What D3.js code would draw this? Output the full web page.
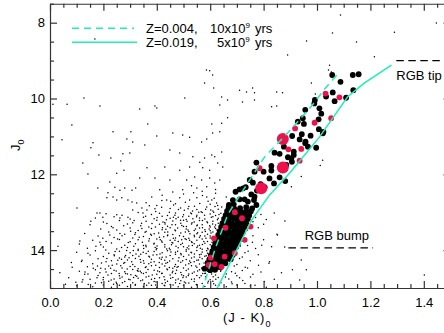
<!DOCTYPE html>
<html>
<head>
<meta charset="utf-8">
<script src="https://cdn.jsdelivr.net/npm/d3@7"></script>
<style>
  html, body { margin: 0; padding: 0; background: #fff; }
  svg { display: block; font-family: "Liberation Sans", Arial, Helvetica, sans-serif; }
  .axis { font-family: "Liberation Sans", Arial, Helvetica, sans-serif; }
  .axis path, .axis line { stroke: #333; stroke-width: 1.2; }
  .axis text { font-size: 13px; fill: #000; }
  .lbl { font-size: 13px; fill: #000; }
</style>
</head>
<body>
<svg id="chart" width="444" height="333"></svg>
<script>
// axis ticks
const jkTicks = [0.0, 0.2, 0.4, 0.6, 0.8, 1.0, 1.2, 1.4];
const jTicks = [8, 10, 12, 14];

// isochrones [(J-K)0, J0]
const isoZ004 = [[0.568,15.1],[0.617,14.0],[0.665,13.07],[0.736,12.28],[0.804,11.54],[0.890,10.91],[0.983,10.17],[1.032,9.72],[1.084,9.30]];
const isoZ019 = [[0.619,15.1],[0.699,14.0],[0.755,13.21],[0.822,12.55],[0.897,11.97],[1.009,11.02],[1.114,9.96],[1.178,9.59],[1.279,9.12]];

const legendLabels = [
  { z: 'Z=0.004,', age: '10x10', exp: '9', unit: 'yrs', dashed: true },
  { z: 'Z=0.019,', age: '5x10', exp: '9', unit: 'yrs', dashed: false }
];

// RGB features
const rgbTipJ = 9.0;
const rgbBumpJ = 13.94;

// RGB members (black)
const rgbMembers = [
  [1.057,9.38],[1.088,9.56],[1.134,9.38],[1.156,9.36],[1.136,9.78],[1.109,9.98],[1.059,9.84],[1.066,10.07],
  [1.034,9.95],[0.992,10.04],[0.990,10.13],[1.009,10.26],[1.016,10.40],[0.956,10.30],[1.006,10.55],[0.947,10.52],
  [0.928,10.61],[0.951,10.67],[0.943,10.94],[0.976,10.98],[0.935,11.08],[0.956,11.18],[0.966,11.27],[0.997,11.30],
  [1.022,10.92],[0.876,11.27],[0.913,11.40],[0.841,11.43],[0.860,11.46],[0.891,11.55],[0.913,11.49],[0.906,11.67],
  [0.885,11.75],[0.829,11.78],[0.829,11.90],[0.773,11.69],[0.860,12.08],[0.822,12.11],[0.881,12.18],[0.839,12.24],
  [0.789,12.26],[0.804,12.34],[0.766,11.93],[0.800,11.93],[0.748,12.15],[0.760,12.22],[0.733,12.34],[0.710,12.40],
  [0.695,12.46],[0.710,12.66],[0.729,12.66],[0.741,12.72],[0.685,12.68],[0.670,12.81],[0.775,12.43],[0.766,12.59],
  [0.723,12.37],[0.754,12.53],[0.764,12.68],[0.773,12.81],[0.688,12.79],[1.007,10.81],[1.024,10.88],[0.907,10.99],
  [0.957,11.14],[0.904,11.58],
  [0.669,12.88],[0.690,12.90],[0.712,12.89],[0.735,12.87],[0.757,12.90],
  [0.663,12.97],[0.681,12.98],[0.699,12.96],[0.717,12.99],[0.735,12.97],[0.752,12.98],
  [0.658,13.08],[0.676,13.07],[0.694,13.09],[0.712,13.08],[0.729,13.07],[0.746,13.09],
  [0.652,13.18],[0.670,13.19],[0.688,13.17],[0.706,13.18],[0.723,13.19],[0.741,13.18],
  [0.646,13.29],[0.664,13.28],[0.682,13.30],[0.700,13.29],[0.717,13.28],[0.735,13.30],
  [0.641,13.39],[0.659,13.40],[0.676,13.38],[0.694,13.39],[0.711,13.40],[0.729,13.39],
  [0.636,13.50],[0.653,13.49],[0.671,13.51],[0.688,13.50],[0.706,13.49],[0.722,13.51],
  [0.630,13.60],[0.648,13.61],[0.665,13.59],[0.683,13.60],[0.700,13.61],[0.716,13.60],
  [0.624,13.71],[0.642,13.70],[0.660,13.72],[0.677,13.71],[0.694,13.70],[0.710,13.72],
  [0.619,13.82],[0.637,13.81],[0.654,13.83],[0.671,13.82],[0.688,13.81],[0.703,13.83],
  [0.613,13.92],[0.631,13.93],[0.648,13.91],[0.665,13.92],[0.682,13.93],[0.697,13.92],
  [0.608,14.03],[0.626,14.02],[0.643,14.04],[0.660,14.03],[0.676,14.02],[0.690,14.04],
  [0.602,14.13],[0.620,14.14],[0.637,14.12],[0.654,14.13],[0.670,14.14],[0.684,14.13],
  [0.597,14.24],[0.614,14.23],[0.631,14.25],[0.648,14.24],[0.664,14.23],[0.677,14.24],
  [0.591,14.34],[0.609,14.35],[0.626,14.33],[0.642,14.34],[0.657,14.35],
  [0.590,14.45],[0.607,14.44],[0.623,14.46],[0.638,14.45],
  [0.600,14.53],[0.618,14.52],[0.579,14.49]
];

// members marked red
const redStars = [
  [1.032,9.87],[1.084,9.97],[1.053,10.52],[0.991,10.64],[0.918,10.79],[0.941,11.33],[0.893,11.34],[0.935,11.64],
  [0.785,11.84],[0.692,13.00],[0.719,13.16],[0.751,13.38],[0.657,13.41],[0.729,13.73],[0.614,13.69],[0.692,14.08],
  [0.654,14.17],[0.602,14.20],[0.617,14.37],[0.594,14.39],[0.642,14.44]
];
const bigRedStars = [[0.872,11.07],[0.872,11.82],[0.791,12.37]];

// field stars
const fieldStars = [
  [0.168,8.43],[0.127,9.99],[0.586,9.25],[0.598,9.27],[0.609,9.38],[0.613,9.72],[0.579,9.59],[0.505,9.99],
  [0.40,10.25],[0.643,9.96],[0.665,10.04],[0.71,9.78],[0.736,9.83],[0.759,9.72],[0.766,9.85],[0.766,10.04],
  [0.849,9.83],[0.871,9.85],[0.89,8.85],[1.088,7.8],[1.058,8.27],[0.961,8.48],[1.148,8.51],[1.215,8.9],
  [1.29,8.25],[1.447,8.01],[1.047,9.12],[1.043,9.25],[1.054,9.3],[0.979,9.59],[0.994,9.88],
  [0.011,10.15],[0.064,10.15],[0.187,10.2],[0.336,10.28],[0.082,10.7],[0.366,10.67],[0.045,11.09],[0.161,11.17],
  [0.153,11.3],[0.236,10.88],[0.303,10.88],[0.288,11.07],[0.31,11.15],[0.355,11.23],[0.183,11.49],[0.228,11.57],
  [0.273,11.46],[0.299,11.44],[0.265,11.65],[0.123,11.7],[0.142,11.99],[0.25,11.97],[0.277,11.89],[0.363,11.83],
  [0.336,12.1],[0.224,12.2],[0.243,12.34],[0.101,12.89],[0.179,12.36],[0.213,12.62],
  [0.393,10.2],[0.636,10.17],[0.721,10.09],[0.83,10.22],[0.849,10.2],[0.643,10.65],[0.606,10.67],[0.665,10.51],
  [0.497,10.96],[0.4,10.99],[0.609,10.91],[0.636,10.88],[0.587,11.07],[0.568,11.15],[0.523,11.02],[0.46,10.91],
  [0.449,11.36],[0.486,11.44],[0.43,11.81],[0.535,11.54],[0.561,11.68],[0.579,11.57],[0.606,11.49],[0.617,11.54],
  [0.643,11.41],[0.628,11.7],[0.647,11.81],[0.598,11.89],[0.572,11.83],[0.523,11.81],[0.486,11.89],[0.393,12.1],
  [0.449,12.15],[0.512,12.15],[0.542,12.07],[0.568,12.15],[0.598,12.1],[0.617,12.23],[0.636,12.15],[0.587,12.33],
  [0.55,12.36],[0.497,12.41],[0.46,12.47],[0.411,12.41],[0.381,12.6],[0.437,12.68],[0.486,12.62],[0.523,12.68],
  [0.55,12.62],[0.587,12.6],[0.606,12.68],[0.624,12.76],[0.643,12.86],[0.587,12.86],
  [0.262,12.42],[0.28,12.36],[0.307,12.42],[0.321,12.36],[0.217,12.49],[0.236,12.6],[0.25,12.68],[0.269,12.62],
  [0.292,12.68],[0.307,12.73],[0.325,12.76],[0.344,12.89],[0.363,12.94],[0.187,13.02],[0.198,13.13],[0.25,13.07],
  [0.292,13.13],[0.31,12.94],[0.348,13.02],
  [0.42,12.55],[0.47,12.78],[0.52,12.85],[0.55,12.93],[0.61,12.97],[0.45,12.9],[0.5,12.52],[0.57,12.45],
  [0.62,12.5],[0.4,12.82],[0.36,12.75],[0.53,12.3],[0.62,12.4],[0.66,12.6],[0.6,12.79],[0.63,12.92],
  [0.03,13.9],[0.112,13.76],[0.037,14.6],[0.153,13.24],[0.176,13.02],[0.142,14.08],[0.187,13.79],[0.131,14.58],
  [1.021,11.63],[1.012,11.77],[0.941,12.06],[0.904,12.33],[0.941,14.26],[0.908,14.52],[0.96,14.52],[0.935,14.79],
  [1.402,14.66],[0.852,13.6],[0.879,13.92],[0.822,14.31],[0.867,14.6],[0.793,13.87],
  [0.21,13.04],[0.27,13.08],[0.33,13.01],[0.38,13.06],[0.41,13.03],[0.44,13.09],[0.47,13.02],[0.5,13.07],
  [0.53,13.04],[0.55,13.08],[0.57,13.01],[0.6,13.05],[0.62,13.09],[0.64,13.03],[0.79,13.06],[0.84,13.02],
  [0.17,13.15],[0.24,13.12],[0.3,13.18],[0.35,13.13],[0.39,13.17],[0.42,13.11],[0.45,13.16],[0.48,13.13],
  [0.51,13.19],[0.52,13.11],[0.56,13.15],[0.58,13.18],[0.61,13.12],[0.63,13.16],[0.77,13.14],[0.81,13.19],
  [0.2,13.26],[0.26,13.22],[0.31,13.28],[0.36,13.24],[0.4,13.21],[0.43,13.27],[0.46,13.23],[0.49,13.29],
  [0.5,13.21],[0.54,13.26],[0.56,13.22],[0.59,13.28],[0.61,13.24],[0.63,13.29],[0.76,13.25],[0.88,13.23],
  [0.15,13.33],[0.23,13.38],[0.29,13.31],[0.34,13.36],[0.37,13.39],[0.41,13.32],[0.44,13.37],[0.47,13.33],
  [0.5,13.38],[0.53,13.31],[0.55,13.36],[0.57,13.33],[0.6,13.39],[0.62,13.34],[0.75,13.36],[0.8,13.32],
  [0.19,13.44],[0.25,13.47],[0.3,13.42],[0.33,13.48],[0.38,13.43],[0.42,13.46],[0.45,13.41],[0.47,13.49],
  [0.51,13.44],[0.54,13.48],[0.56,13.42],[0.58,13.46],[0.6,13.49],[0.62,13.43],[0.74,13.47],[0.78,13.41],
  [0.13,13.56],[0.22,13.52],[0.28,13.58],[0.32,13.54],[0.36,13.51],[0.39,13.57],[0.43,13.53],[0.46,13.59],
  [0.49,13.55],[0.52,13.51],[0.55,13.57],[0.57,13.53],[0.59,13.58],[0.61,13.52],[0.73,13.55],[0.85,13.58],
  [0.18,13.63],[0.24,13.67],[0.27,13.62],[0.31,13.68],[0.35,13.64],[0.38,13.61],[0.41,13.66],[0.44,13.62],
  [0.47,13.68],[0.5,13.64],[0.52,13.69],[0.54,13.61],[0.56,13.66],[0.58,13.63],[0.6,13.68],[0.72,13.65],[0.76,13.62],
  [0.16,13.74],[0.21,13.77],[0.26,13.72],[0.3,13.78],[0.33,13.73],[0.37,13.76],[0.4,13.71],[0.42,13.79],
  [0.45,13.74],[0.48,13.77],[0.51,13.72],[0.53,13.78],[0.55,13.74],[0.57,13.71],[0.59,13.77],[0.71,13.75],[0.8,13.73],
  [0.11,13.84],[0.19,13.86],[0.23,13.81],[0.28,13.87],[0.32,13.83],[0.35,13.88],[0.39,13.82],[0.43,13.86],
  [0.46,13.81],[0.49,13.85],[0.52,13.89],[0.54,13.83],[0.56,13.87],[0.58,13.82],[0.6,13.86],[0.7,13.84],[0.74,13.88],
  [0.14,13.95],[0.2,13.92],[0.25,13.97],[0.29,13.93],[0.33,13.98],[0.36,13.91],[0.4,13.96],[0.43,13.92],
  [0.45,13.99],[0.48,13.94],[0.5,13.91],[0.52,13.97],[0.55,13.93],[0.57,13.98],[0.59,13.95],[0.69,13.93],[0.77,13.96],[0.83,13.91],
  [0.1,14.06],[0.17,14.02],[0.22,14.08],[0.26,14.03],[0.3,14.07],[0.33,14.01],[0.36,14.09],[0.39,14.04],
  [0.42,14.07],[0.44,14.02],[0.47,14.06],[0.49,14.09],[0.51,14.03],[0.53,14.07],[0.55,14.01],[0.57,14.05],[0.59,14.08],[0.69,14.04],[0.73,14.07],
  [0.15,14.13],[0.2,14.17],[0.24,14.12],[0.28,14.18],[0.31,14.14],[0.34,14.11],[0.37,14.16],[0.4,14.12],
  [0.42,14.19],[0.45,14.14],[0.47,14.11],[0.5,14.17],[0.52,14.13],[0.54,14.18],[0.56,14.12],[0.58,14.16],[0.68,14.14],[0.72,14.18],[0.78,14.12],
  [0.12,14.27],[0.18,14.23],[0.23,14.28],[0.26,14.21],[0.29,14.26],[0.32,14.22],[0.35,14.28],[0.38,14.24],
  [0.41,14.21],[0.43,14.27],[0.46,14.23],[0.48,14.29],[0.51,14.25],[0.53,14.21],[0.55,14.27],[0.57,14.23],[0.67,14.26],[0.71,14.22],[0.75,14.28],
  [0.08,14.33],[0.16,14.36],[0.21,14.31],[0.25,14.37],[0.28,14.33],[0.31,14.38],[0.34,14.32],[0.37,14.36],
  [0.39,14.31],[0.42,14.37],[0.44,14.33],[0.47,14.38],[0.49,14.32],[0.52,14.36],[0.54,14.31],[0.56,14.37],[0.66,14.34],[0.7,14.38],[0.82,14.35],
  [0.14,14.44],[0.19,14.48],[0.22,14.42],[0.27,14.47],[0.3,14.43],[0.33,14.49],[0.36,14.44],[0.38,14.41],
  [0.41,14.46],[0.43,14.42],[0.46,14.48],[0.48,14.43],[0.5,14.47],[0.53,14.41],[0.55,14.45],[0.57,14.49],[0.65,14.46],[0.69,14.42],[0.74,14.47],
  [0.11,14.56],[0.17,14.52],[0.21,14.58],[0.24,14.53],[0.28,14.57],[0.31,14.51],[0.33,14.56],[0.36,14.59],
  [0.39,14.53],[0.41,14.57],[0.44,14.52],[0.46,14.56],[0.49,14.59],[0.51,14.54],[0.54,14.58],[0.56,14.52],[0.59,14.56],[0.64,14.53],[0.68,14.57],[0.72,14.54],[0.79,14.58],
  [0.13,14.64],[0.18,14.67],[0.23,14.62],[0.26,14.68],[0.29,14.63],[0.32,14.67],[0.35,14.62],[0.37,14.69],
  [0.4,14.64],[0.42,14.61],[0.45,14.66],[0.47,14.62],[0.5,14.68],[0.52,14.63],[0.55,14.67],[0.58,14.62],[0.62,14.66],[0.66,14.63],[0.7,14.68],[0.76,14.64],
  [0.07,14.73],[0.15,14.77],[0.2,14.72],[0.24,14.76],[0.27,14.71],[0.3,14.78],[0.33,14.74],[0.36,14.71],
  [0.38,14.77],[0.41,14.73],[0.43,14.78],[0.46,14.72],[0.48,14.76],[0.51,14.71],[0.53,14.77],[0.56,14.73],[0.6,14.78],[0.63,14.72],[0.67,14.76],[0.71,14.73],[0.84,14.77],
  [0.12,14.84],[0.17,14.87],[0.22,14.82],[0.25,14.88],[0.28,14.83],[0.31,14.86],[0.34,14.81],[0.37,14.87],
  [0.39,14.83],[0.42,14.88],[0.44,14.82],[0.47,14.86],[0.49,14.81],[0.52,14.87],[0.54,14.83],[0.57,14.88],[0.61,14.82],[0.64,14.86],[0.68,14.84],[0.73,14.88],
  [0.1,14.94],[0.16,14.97],[0.2,14.92],[0.23,14.98],[0.26,14.93],[0.29,14.96],[0.32,14.91],[0.35,14.97],
  [0.38,14.93],[0.4,14.98],[0.43,14.94],[0.45,14.91],[0.48,14.97],[0.5,14.93],[0.53,14.98],[0.55,14.92],[0.58,14.96],[0.62,14.93],[0.66,14.97],[0.7,14.92],[0.75,14.95],[0.81,14.98],
  [0.372,12.83],[0.418,12.87],[0.463,12.81],[0.503,12.95],[0.541,12.84],[0.583,12.92],[0.618,12.85],[0.396,12.98],
  [0.447,13.00],[0.489,12.89],[0.527,13.02],[0.566,12.99],[0.604,13.13],[0.633,13.06],[0.358,13.11],[0.401,13.14],
  [0.436,13.2],[0.472,13.17],[0.513,13.24],[0.549,13.12],[0.588,13.25],[0.627,13.2],[0.382,13.3],[0.423,13.26],
  [0.457,13.33],[0.494,13.35],[0.532,13.28],[0.571,13.41],[0.609,13.31],[0.344,13.43],[0.395,13.39],[0.434,13.45],
  [0.478,13.42],[0.517,13.47],[0.552,13.34],[0.596,13.44],[0.625,13.47],[0.315,13.22],[0.276,13.36],[0.262,13.15],
  [0.236,13.41],[0.302,13.5],[0.213,13.3],[0.343,13.29],[0.579,13.08],[0.511,13.38],[0.468,13.08],[0.421,13.41],
  [0.617,13.39],[0.646,13.14],
  [0.356,13.53],[0.407,13.55],[0.441,13.52],[0.485,13.62],[0.524,13.57],[0.563,13.62],[0.603,13.55],[0.334,13.66],
  [0.372,13.7],[0.426,13.65],[0.462,13.69],[0.506,13.7],[0.541,13.65],[0.584,13.69],[0.612,13.74],[0.293,13.8],
  [0.346,13.79],[0.389,13.84],[0.418,13.76],[0.457,13.8],[0.496,13.82],[0.532,13.8],[0.571,13.85],[0.607,13.79],
  [0.268,13.93],[0.314,13.9],[0.351,13.96],[0.394,13.93],[0.437,13.97],[0.472,13.9],[0.514,13.94],[0.553,13.89],
  [0.592,13.97],[0.244,14.04],[0.287,14.01],[0.322,14.1],[0.368,14.03],[0.412,14.1],[0.453,14.05],[0.491,14.12],
  [0.528,14.06],[0.566,14.11],[0.587,14.02],[0.224,13.6],[0.253,13.71],[0.198,13.69],[0.172,13.9],[0.209,14.0],
  [0.262,13.56],[0.318,13.59],[0.377,13.58],[0.441,13.6],[0.468,13.74],[0.523,13.74],[0.553,13.54],[0.6,13.63],
  [0.401,13.89],[0.455,13.86],[0.51,13.99],[0.563,13.95],[0.349,14.06],[0.398,13.99],[0.478,14.03],[0.541,14.1],
  [0.621,13.88],[0.742,14.03],[0.758,13.79],[0.713,13.89],
  [0.213,14.22],[0.254,14.27],[0.296,14.2],[0.338,14.25],[0.373,14.18],[0.417,14.24],[0.448,14.29],[0.483,14.2],
  [0.523,14.29],[0.561,14.19],[0.583,14.3],[0.193,14.34],[0.233,14.4],[0.276,14.35],[0.318,14.43],[0.352,14.35],
  [0.396,14.4],[0.434,14.35],[0.467,14.43],[0.508,14.39],[0.546,14.42],[0.577,14.34],[0.162,14.48],[0.207,14.5],
  [0.248,14.55],[0.289,14.5],[0.327,14.54],[0.367,14.51],[0.403,14.55],[0.438,14.5],[0.474,14.53],[0.518,14.5],
  [0.553,14.55],[0.582,14.61],[0.142,14.63],[0.187,14.6],[0.217,14.66],[0.259,14.62],[0.303,14.65],[0.342,14.6],
  [0.383,14.66],[0.418,14.62],[0.458,14.6],[0.493,14.65],[0.533,14.61],[0.566,14.68],[0.605,14.63],[0.123,14.78],
  [0.176,14.73],[0.229,14.79],[0.262,14.74],[0.313,14.72],[0.347,14.79],[0.392,14.75],[0.427,14.7],[0.471,14.79],
  [0.498,14.72],[0.541,14.76],[0.583,14.7],[0.621,14.77],[0.143,14.91],[0.193,14.86],[0.238,14.9],[0.271,14.86],
  [0.319,14.93],[0.353,14.88],[0.396,14.92],[0.432,14.86],[0.461,14.92],[0.508,14.87],[0.548,14.91],[0.591,14.87],
  [0.633,14.92],[0.682,14.89],[0.722,14.8],[0.657,14.71],[0.694,14.61],[0.751,14.71],[0.731,14.45],[0.781,14.4],
  [0.803,14.83],[0.768,14.93],[0.097,14.85],[0.083,14.45],[0.058,14.9],[0.118,14.3],[0.622,14.45],[0.639,14.56],
  [0.611,14.7],[0.593,14.82],
  [0.452,12.71],[0.481,12.93],[0.507,12.74],[0.534,12.97],[0.561,12.77],[0.592,12.71],[0.615,12.63],[0.571,12.56],
  [0.538,12.49],[0.602,12.94],[0.628,12.82],[0.419,12.69],[0.393,12.91],[0.462,13.13],[0.497,13.12],[0.535,13.17],
  [0.571,13.22],[0.598,13.36],[0.625,13.57],[0.582,13.51],[0.545,13.44],[0.507,13.52],[0.468,13.47],[0.431,13.31],
  [0.489,13.21],[0.613,13.0],[0.557,13.0],[0.517,12.91],
  [0.265,14.41],[0.283,14.14],[0.306,14.31],[0.325,14.69],[0.357,14.46],[0.386,14.13],[0.409,14.33],[0.428,14.93],
  [0.452,14.74],[0.476,14.45],[0.503,14.84],[0.527,14.33],[0.568,14.47],[0.585,14.15],[0.606,14.41],[0.613,14.89],
  [0.572,14.62],[0.518,14.67],[0.486,14.88],[0.447,14.46],[0.397,14.84],[0.362,14.93],[0.333,14.16],[0.295,14.77],
  [0.248,14.85],[0.227,14.48],[0.268,14.24],[0.312,14.01],[0.359,13.87],[0.413,13.73],[0.447,13.95],[0.493,13.73],
  [0.533,13.88],[0.576,13.77],[0.599,14.12],[0.556,14.26],[0.497,14.28],[0.435,14.18],[0.378,14.32],[0.338,14.56],
  [0.283,14.62],[0.199,14.78],[0.178,14.42],[0.241,14.15]
];

const cyan = '#1cf0b4';
const red = '#f0104c';

const svg = d3.select('#chart');

const x = d3.scaleLinear().domain([0, 1.5]).range([50, 450.5]);
const y = d3.scaleLinear().domain([7.5, 15]).range([3.75, 288]);

svg.append('defs').append('clipPath').attr('id', 'plot-clip')
  .append('rect')
  .attr('x', x(0)).attr('y', y(7.5))
  .attr('width', x(1.5) - x(0)).attr('height', y(15) - y(7.5));

const plot = svg.append('g').attr('clip-path', 'url(#plot-clip)');

// field stars
plot.append('g').selectAll('circle')
  .data(fieldStars)
  .join('circle')
  .attr('cx', d => x(d[0]))
  .attr('cy', d => y(d[1]))
  .attr('r', 0.75)
  .attr('fill', '#000');

// members
plot.append('g').selectAll('circle')
  .data(rgbMembers)
  .join('circle')
  .attr('cx', d => x(d[0]))
  .attr('cy', d => y(d[1]))
  .attr('r', 2.9)
  .attr('fill', '#000');

plot.append('g').selectAll('circle')
  .data(redStars)
  .join('circle')
  .attr('cx', d => x(d[0]))
  .attr('cy', d => y(d[1]))
  .attr('r', 2.9)
  .attr('fill', red);

plot.append('g').selectAll('circle')
  .data(bigRedStars)
  .join('circle')
  .attr('cx', d => x(d[0]))
  .attr('cy', d => y(d[1]))
  .attr('r', 6)
  .attr('fill', red);

// isochrones
const line = d3.line().x(d => x(d[0])).y(d => y(d[1]));

plot.append('path')
  .datum(isoZ004)
  .attr('d', line)
  .attr('fill', 'none')
  .attr('stroke', cyan)
  .attr('stroke-width', 1.5)
  .attr('stroke-dasharray', '7,5');

plot.append('path')
  .datum(isoZ019)
  .attr('d', line)
  .attr('fill', 'none')
  .attr('stroke', cyan)
  .attr('stroke-width', 1.5);

// RGB tip / bump markers
plot.append('line')
  .attr('x1', x(1.297)).attr('x2', x(1.5))
  .attr('y1', y(rgbTipJ)).attr('y2', y(rgbTipJ))
  .attr('stroke', '#000').attr('stroke-width', 1.3).attr('stroke-dasharray', '7.5,4.5');
svg.append('text').attr('class', 'lbl')
  .attr('x', x(1.297)).attr('y', y(rgbTipJ) + 19)
  .text('RGB tip');

plot.append('line')
  .attr('x1', x(0.893)).attr('x2', x(1.21))
  .attr('y1', y(rgbBumpJ)).attr('y2', y(rgbBumpJ))
  .attr('stroke', '#000').attr('stroke-width', 1.3).attr('stroke-dasharray', '7.5,4.5');
svg.append('text').attr('class', 'lbl')
  .attr('x', x(0.954)).attr('y', y(rgbBumpJ) - 8)
  .text('RGB bump');

// axes: minor ticks
const xMinor = d3.range(0, 1.5001, 0.05).filter(v => !jkTicks.some(t => Math.abs(t - v) < 1e-6));
const yMinor = d3.range(7.5, 15.001, 0.5).filter(v => !jTicks.includes(v));

svg.append('g').attr('class', 'axis')
  .attr('transform', `translate(0,${y(15)})`)
  .call(d3.axisBottom(x).tickValues(xMinor).tickSizeInner(-4).tickSizeOuter(0).tickFormat(''));
svg.append('g').attr('class', 'axis')
  .attr('transform', `translate(0,${y(15)})`)
  .call(d3.axisBottom(x).tickValues(jkTicks).tickSizeInner(-7).tickSizeOuter(0).tickPadding(10).tickFormat(d3.format('.1f')))
  .call(g => g.select('.domain').remove());

svg.append('g').attr('class', 'axis')
  .attr('transform', `translate(0,${y(7.5)})`)
  .call(d3.axisTop(x).tickValues(xMinor).tickSizeInner(-4).tickSizeOuter(0).tickFormat(''));
svg.append('g').attr('class', 'axis')
  .attr('transform', `translate(0,${y(7.5)})`)
  .call(d3.axisTop(x).tickValues(jkTicks).tickSizeInner(-7).tickSizeOuter(0).tickFormat(''))
  .call(g => g.select('.domain').remove());

svg.append('g').attr('class', 'axis')
  .attr('transform', `translate(${x(0)},0)`)
  .call(d3.axisLeft(y).tickValues(yMinor).tickSizeInner(-4).tickSizeOuter(0).tickFormat(''));
svg.append('g').attr('class', 'axis')
  .attr('transform', `translate(${x(0)},0)`)
  .call(d3.axisLeft(y).tickValues(jTicks).tickSizeInner(-7).tickSizeOuter(0).tickPadding(5).tickFormat(d3.format('d')))
  .call(g => g.select('.domain').remove());

svg.append('g').attr('class', 'axis')
  .attr('transform', `translate(${x(1.5)},0)`)
  .call(d3.axisRight(y).tickValues(yMinor).tickSizeInner(-4).tickSizeOuter(0).tickFormat(''));
svg.append('g').attr('class', 'axis')
  .attr('transform', `translate(${x(1.5)},0)`)
  .call(d3.axisRight(y).tickValues(jTicks).tickSizeInner(-7).tickSizeOuter(0).tickFormat(''))
  .call(g => g.select('.domain').remove());

// axis titles
const xTitle = svg.append('text').attr('class', 'lbl')
  .attr('x', 223).attr('y', 322)
  .style('letter-spacing', '1px');
xTitle.append('tspan').text('(J - K)');
xTitle.append('tspan').attr('dy', 5).attr('font-size', 9).style('letter-spacing', '0px').text('0');

const yTitle = svg.append('text').attr('class', 'lbl')
  .attr('transform', 'translate(20,151) rotate(-90)');
yTitle.append('tspan').text('J');
yTitle.append('tspan').attr('dy', 4).attr('font-size', 9).text('0');

// legend
const legend = svg.append('g');
legendLabels.forEach((d, i) => {
  const ly = 28.3 + i * 14;
  legend.append('line')
    .attr('x1', 72).attr('x2', d.dashed ? 134 : 137)
    .attr('y1', ly).attr('y2', ly)
    .attr('stroke', cyan).attr('stroke-width', 1.5)
    .attr('stroke-dasharray', d.dashed ? '7,5' : null);
  const t = legend.append('text').attr('class', 'lbl').attr('y', ly + 4.7);
  t.append('tspan').attr('x', 146).text(d.z);
  t.append('tspan').attr('x', d.dashed ? 210 : 217).text(d.age);
  t.append('tspan').attr('dy', -5).attr('font-size', 8).text(d.exp);
  t.append('tspan').attr('x', 255).attr('dy', 5).text(d.unit);
});
</script>
</body>
</html>
